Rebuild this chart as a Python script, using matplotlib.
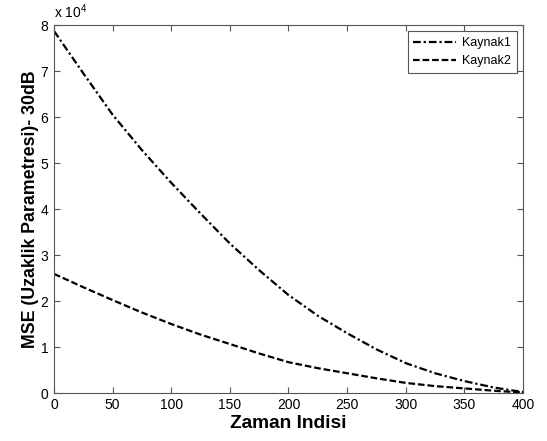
import matplotlib
matplotlib.use("Agg")
import matplotlib.pyplot as plt
from matplotlib.ticker import FuncFormatter
import numpy as np

# values (MSE, raw units)
zaman = [0, 25, 50, 75, 100, 125, 150, 175, 200, 225, 250, 275, 300, 325, 350, 375, 400]
kaynak1 = [78700, 69500, 60500, 52800, 45700, 39000, 32500, 26700, 21300, 16800,
           13000, 9500, 6500, 4300, 2600, 1200, 200]
kaynak2 = [25900, 23000, 20200, 17500, 15000, 12700, 10650, 8600, 6700, 5400,
           4300, 3200, 2200, 1500, 1000, 500, 100]

FONT = "Liberation Sans"
plt.rcParams["font.family"] = FONT
plt.rcParams["mathtext.fontset"] = "custom"
plt.rcParams["mathtext.rm"] = FONT
AXCOL = "#555555"

fig = plt.figure(figsize=(5.47, 4.41), dpi=100)
ax = fig.add_axes([0.0987, 0.1088, 0.8574, 0.8345])

ax.plot(zaman, kaynak1, color="black", linewidth=1.6,
        linestyle=(0, (3.5, 1.3, 1, 1.3)), label="Kaynak1")
ax.plot(zaman, kaynak2, color="black", linewidth=1.6,
        linestyle=(0, (3, 1.3)), label="Kaynak2")

ax.set_xlim(0, 400)
ax.set_ylim(0, 80000)
ax.set_xticks(np.arange(0, 401, 50))
ax.set_yticks(np.arange(0, 80001, 10000))
ax.yaxis.set_major_formatter(FuncFormatter(lambda v, _: f"{v / 1e4:g}"))

for s in ax.spines.values():
    s.set_color(AXCOL)
    s.set_linewidth(0.8)
ax.tick_params(direction="in", length=4, width=0.8, color=AXCOL,
               top=True, right=True, labelsize=10, labelcolor="black")
ax.tick_params(axis="y", pad=4)

ax.text(0.0, 1.012, r"x 10$^{4}$", transform=ax.transAxes, fontsize=10,
        ha="left", va="bottom")

ax.set_xlabel("Zaman Indisi", fontsize=13.8, fontweight="bold", labelpad=2)
ax.set_ylabel("MSE (Uzaklik Parametresi)- 30dB", fontsize=12.8, fontweight="bold",
              labelpad=1)

leg = ax.legend(loc="upper right", fontsize=9, handlelength=3.4,
                fancybox=False, framealpha=1, borderpad=0.45,
                labelspacing=0.5, handletextpad=0.5, borderaxespad=0.5)
leg.get_frame().set_edgecolor(AXCOL)
leg.get_frame().set_linewidth(0.8)

fig.savefig("out.png", dpi=100, facecolor="white")
